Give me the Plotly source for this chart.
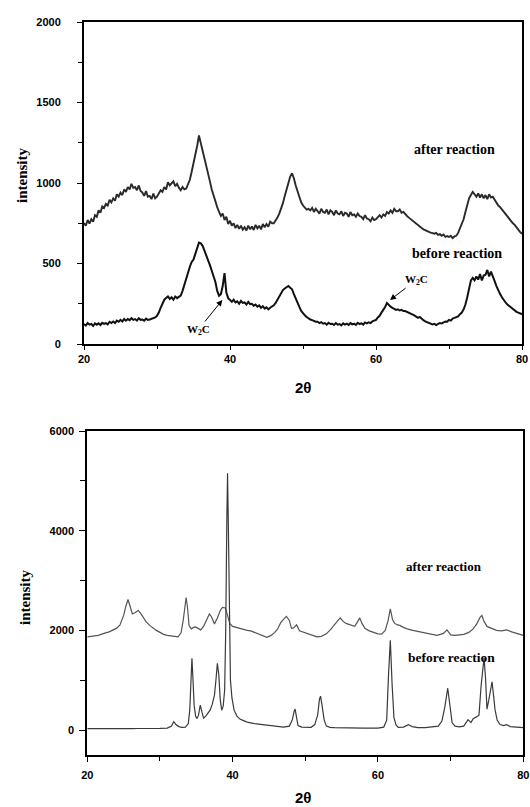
import plotly.graph_objects as go

# ---------------- top panel: uniform scan, 0.25 deg step ----------------
two_theta_top = [20 + 0.25 * i for i in range(241)]

after_top = [
    752, 735, 770, 748, 775, 760, 800, 790, 830, 815, 855, 845, 870, 860, 895, 880,
    905, 890, 930, 915, 940, 925, 960, 945, 975, 960, 995, 970, 975, 955, 985, 950,
    940, 920, 950, 915, 920, 900, 935, 905, 915, 935, 955, 945, 975, 960, 1005, 985,
    995, 1010, 980, 995, 970, 955, 975, 960, 965, 990, 1020, 1070, 1120, 1180, 1230, 1295,
    1250, 1200, 1150, 1100, 1060, 1010, 960, 920, 890, 850, 820, 795, 810, 770, 790, 745,
    765, 735, 750, 720, 740, 715, 735, 710, 725, 705, 735, 712, 730, 708, 740, 718,
    735, 712, 745, 725, 745, 728, 760, 750, 750, 765, 785, 810, 840, 875, 920, 965,
    1005, 1040, 1060, 1030, 985, 950, 910, 880, 860, 845, 835, 840, 830, 845, 820, 840,
    825, 810, 840, 820, 815, 835, 805, 830, 820, 800, 830, 810, 805, 825, 795, 815,
    810, 790, 820, 800, 805, 790, 810, 795, 790, 775, 800, 780, 775, 762, 785, 770,
    775, 790, 800, 785, 805, 795, 820, 810, 830, 815, 840, 825, 825, 835, 815, 820,
    805, 795, 785, 775, 765, 755, 745, 735, 728, 720, 712, 705, 700, 696, 692, 688,
    685, 690, 678, 682, 672, 680, 665, 670, 665, 672, 658, 668, 672, 690, 720, 750,
    775, 820, 870, 905, 925, 945, 930, 915, 935, 910, 930, 905, 925, 900, 930, 910,
    915, 895, 880, 860, 850, 835, 820, 805, 790, 775, 765, 750, 740, 725, 705, 695,
    685,
]

before_top = [
    125, 115, 130, 120, 125, 112, 128, 120, 128, 118, 132, 125, 130, 122, 138, 130,
    140, 130, 145, 138, 150, 140, 155, 145, 155, 148, 160, 150, 155, 145, 160, 150,
    152, 145, 158, 150, 152, 155, 160, 165, 175, 195, 225, 255, 275, 285, 295, 280,
    290, 275, 295, 285, 290, 300, 330, 370, 410, 450, 480, 510, 525, 560, 600, 630,
    625, 610, 580, 545, 520, 490, 455, 425, 385, 330, 300, 310, 360, 440, 320, 285,
    270, 262, 275, 258, 265, 250, 268, 255, 258, 245, 262, 248, 250, 238, 245, 232,
    240, 225, 235, 220, 228, 215, 225, 232, 240, 255, 275, 300, 315, 335, 345, 355,
    360, 350, 340, 310, 280, 260, 230, 205, 190, 178, 168, 158, 152, 148, 142, 138,
    138, 130, 136, 126, 130, 120, 132, 124, 126, 118, 130, 120, 124, 116, 128, 120,
    126, 118, 130, 122, 126, 118, 132, 124, 128, 120, 134, 128, 135, 130, 140, 145,
    150, 165, 175, 195, 210, 230, 255, 240, 232, 225, 220, 212, 215, 208, 212, 205,
    205, 200, 198, 190, 185, 178, 170, 162, 168, 155, 148, 140, 135, 130, 128, 122,
    125, 118, 125, 130, 128, 135, 140, 138, 150, 145, 158, 162, 165, 172, 185, 195,
    215, 245, 290, 350, 395, 410, 395, 420, 400, 435, 395, 425, 430, 460, 420, 450,
    415, 390, 360, 330, 310, 290, 272, 258, 245, 235, 225, 215, 210, 200, 195, 190,
    185,
]

# ---------------- bottom panel ----------------
after_bot_x = [
    20.0, 20.5, 21.0, 21.5, 22.0, 22.5, 23.0, 23.5, 24.0, 24.5, 25.0, 25.3, 25.6, 25.9,
    26.2, 26.6, 27.0, 27.3, 27.7, 28.1, 28.6, 29.0, 29.5, 30.0, 30.5, 31.0, 31.5, 32.0,
    32.5, 32.9, 33.2, 33.5, 33.6, 33.8, 34.0, 34.3, 34.6, 34.9, 35.3, 35.6, 36.0, 36.4,
    36.8, 37.1, 37.5, 37.9, 38.3, 38.6, 39.0, 39.3, 39.6, 40.0, 40.5, 41.0, 41.5, 42.0,
    42.5, 43.0, 43.5, 44.0, 44.7, 45.3, 45.8, 46.2, 46.6, 47.0, 47.4, 47.8, 48.1, 48.4,
    48.8, 49.2, 49.8, 50.4, 51.0, 51.6, 52.2, 52.9, 53.5, 54.1, 54.5, 54.8, 55.2, 55.6,
    56.0, 56.4, 56.8, 57.1, 57.5, 57.8, 58.2, 58.8, 59.4, 60.0, 60.5, 61.0, 61.4, 61.7,
    62.0, 62.3, 62.7, 63.0, 63.5, 64.0, 64.8, 65.8, 66.8, 67.6, 68.1, 68.6, 69.0, 69.5,
    70.0, 70.6, 71.2, 71.8, 72.5, 73.1, 73.6, 74.0, 74.3, 74.6, 75.0, 75.4, 75.8, 76.3,
    77.0, 77.7, 78.4, 79.1, 79.6, 80.0,
]
after_bot_y = [
    1870, 1875, 1890, 1900, 1930, 1950, 1970, 2000, 2040, 2110, 2300, 2480, 2620, 2480,
    2330, 2360, 2400, 2350, 2250, 2170, 2100, 2050, 2000, 1960, 1920, 1900, 1885, 1870,
    1870, 1950, 2200, 2550, 2660, 2450, 2100, 2030, 2060, 2070, 2030, 2010, 2080, 2220,
    2330, 2270, 2130, 2250, 2400, 2460, 2450, 2300, 2140, 2080, 2060, 2030, 2020, 2000,
    1990, 1960, 1920, 1890, 1860, 1900, 1960, 2030, 2150, 2220, 2280, 2200, 2040, 2050,
    2110, 1990, 1960, 1940, 1900, 1870, 1880, 1930, 2020, 2140, 2200, 2250, 2180, 2140,
    2120, 2100, 2080, 2150, 2250, 2140, 2040, 1990, 1955, 1930, 1925, 2000, 2200, 2430,
    2220, 2140, 2110, 2100, 2060, 2030, 2000, 1970, 1940, 1920, 1900, 1920, 1940, 2010,
    1910, 1900, 1910, 1920, 1960, 2030, 2130, 2250, 2300, 2180, 2080, 2060, 2040, 2000,
    1990, 2010, 1970, 1935, 1920, 1900,
]

before_bot_x = [
    20.0, 21.0, 22.0, 23.0, 24.0, 25.0, 26.0, 27.0, 28.0, 29.0, 30.0, 31.0, 31.6, 31.9,
    32.2, 32.6, 33.0, 33.5, 33.9, 34.1, 34.25, 34.4, 34.55, 34.7, 34.9, 35.1, 35.3, 35.55,
    35.8, 36.0, 36.3, 36.6, 36.9, 37.2, 37.5, 37.7, 37.9, 38.1, 38.3, 38.5, 38.7, 38.9,
    39.05, 39.2, 39.3, 39.42, 39.55, 39.7, 39.9, 40.2, 40.6, 41.0, 41.5, 42.0, 43.0, 44.0,
    45.0, 46.0, 47.0, 47.8, 48.2, 48.5, 48.6, 48.8, 49.0, 49.5, 50.0, 50.8, 51.3, 51.7,
    51.95, 52.1, 52.3, 52.6, 52.9, 53.4, 54.0, 55.0, 56.0, 57.0, 58.0, 59.0, 60.0, 60.8,
    61.2, 61.45, 61.7, 61.95, 62.2, 62.5, 62.8, 63.5, 64.2, 64.7, 65.5, 66.5, 67.5, 68.3,
    68.8, 69.2, 69.6, 69.9, 70.2, 70.6, 71.2, 71.8, 72.4, 72.8, 73.1, 73.5, 73.9, 74.2,
    74.45, 74.6, 74.8, 75.0, 75.25, 75.5, 75.7, 75.9, 76.1, 76.4, 76.8, 77.3, 77.7, 78.2,
    79.0, 79.5, 80.0,
]
before_bot_y = [
    30, 28, 30, 32, 28, 30, 30, 32, 30, 33, 35, 40, 80, 170,
    110, 70, 55, 60, 130, 400, 1000, 1440, 1000, 500, 280, 230, 300, 500,
    350, 240, 280, 340, 400, 520, 700, 1000, 1340, 1100, 600, 400, 480, 800,
    2000, 4200, 5150, 4000, 2000, 1000, 650, 400, 280, 220, 190, 160, 130, 110,
    85, 70, 60, 80, 200, 400, 420, 250, 90, 60, 55, 55, 110, 300,
    620, 680, 500, 200, 80, 55, 50, 45, 45, 42, 40, 40, 40, 60,
    200, 1100, 1800, 900, 250, 100, 55, 60, 110, 70, 50, 50, 60, 80,
    180, 460, 840, 450, 150, 80, 65, 80, 210, 150, 230, 260, 300, 900,
    1300, 1450, 1050, 420, 600, 850, 970, 700, 420, 200, 110, 90, 110, 70,
    55, 52, 50,
]

top_yticks = [0, 500, 1000, 1500, 2000]
bot_yticks = [0, 2000, 4000, 6000]
xticks = [20, 40, 60, 80]

W, H = 530, 807


def px_x(p):
    return p / W


def px_y(p):
    return 1 - p / H


fig = go.Figure()
fig.add_trace(go.Scatter(x=two_theta_top, y=after_top, mode="lines",
                         line=dict(color="#2a2a2a", width=1.9), xaxis="x", yaxis="y"))
fig.add_trace(go.Scatter(x=two_theta_top, y=before_top, mode="lines",
                         line=dict(color="#111111", width=2.0), xaxis="x", yaxis="y"))
fig.add_trace(go.Scatter(x=after_bot_x, y=after_bot_y, mode="lines",
                         line=dict(color="#555555", width=1.2), xaxis="x2", yaxis="y2"))
fig.add_trace(go.Scatter(x=before_bot_x, y=before_bot_y, mode="lines",
                         line=dict(color="#3a3a3a", width=1.2), xaxis="x2", yaxis="y2"))

tickfont = dict(family="Liberation Sans, Arial", size=11, color="black", weight="bold")
axis_common = dict(showline=True, linecolor="black", linewidth=2, mirror=True,
                   ticks="outside", tickcolor="black", tickwidth=1.2, automargin=False,
                   showgrid=False, zeroline=False, tickfont=tickfont)

fig.update_layout(
    width=W, height=H,
    margin=dict(l=0, r=0, t=0, b=0, autoexpand=False),
    paper_bgcolor="white", plot_bgcolor="white",
    showlegend=False,
    xaxis=dict(axis_common, domain=[px_x(84), px_x(522)], range=[20, 80],
               tickvals=xticks, ticklen=4, anchor="y",
               minor=dict(dtick=10, ticklen=3, tickcolor="black", ticks="outside")),
    yaxis=dict(axis_common, domain=[px_y(344), px_y(22)], range=[0, 2000],
               tickvals=top_yticks, ticklen=5, anchor="x", ticklabelstandoff=14,
               minor=dict(dtick=250, ticklen=4, tickcolor="black", ticks="outside")),
    xaxis2=dict(axis_common, domain=[px_x(87.3), px_x(523.3)], range=[20, 80],
                tickvals=xticks, ticklen=5, anchor="y2", ticklabelstandoff=4,
                minor=dict(dtick=10, ticklen=4, tickcolor="black", ticks="outside")),
    yaxis2=dict(axis_common, domain=[px_y(755), px_y(431)], range=[-500, 6000],
                tickvals=bot_yticks, ticklen=6, anchor="x2", ticklabelstandoff=3,
                minor=dict(tickvals=[1000, 3000, 5000], ticklen=5, tickcolor="black",
                           ticks="outside")),
)

serif_bold = dict(family="Liberation Serif, Times New Roman", color="black", weight="bold")
sans_bold = dict(family="Liberation Sans, Arial", color="black", weight="bold")
center = dict(xanchor="center", yanchor="middle")

ann = []
# axis titles
ann.append(dict(center, text="intensity", x=px_x(22), y=px_y(175), xref="paper", yref="paper",
                showarrow=False, textangle=-90, font=dict(serif_bold, size=15)))
ann.append(dict(center, text="2θ", x=px_x(303), y=px_y(388), xref="paper", yref="paper",
                showarrow=False, font=dict(sans_bold, size=15)))
ann.append(dict(center, text="intensity", x=px_x(25), y=px_y(597), xref="paper", yref="paper",
                showarrow=False, textangle=-90, font=dict(serif_bold, size=15)))
ann.append(dict(center, text="2θ", x=px_x(303), y=px_y(797), xref="paper", yref="paper",
                showarrow=False, font=dict(sans_bold, size=15)))
# top labels
ann.append(dict(center, text="after reaction", x=70.8, y=1209, xref="x", yref="y",
                showarrow=False, font=dict(serif_bold, size=14)))
ann.append(dict(center, text="before reaction", x=71.06, y=563, xref="x", yref="y",
                showarrow=False, font=dict(serif_bold, size=14)))
# W2C labels with arrows (text sits at the arrow tail)
ann.append(dict(text="W<sub>2</sub>C", x=38.95, y=273, ax=35.62, ay=87,
                xref="x", yref="y", axref="x", ayref="y", showarrow=True,
                arrowhead=2, arrowsize=1.2, arrowwidth=1, arrowcolor="black",
                font=dict(serif_bold, size=11)))
ann.append(dict(text="W<sub>2</sub>C", x=61.92, y=273, ax=65.58, ay=400,
                xref="x", yref="y", axref="x", ayref="y", showarrow=True,
                arrowhead=2, arrowsize=1.2, arrowwidth=1, arrowcolor="black",
                font=dict(serif_bold, size=11)))
# bottom labels
ann.append(dict(center, text="after reaction", x=69.08, y=3280, xref="x2", yref="y2",
                showarrow=False, font=dict(serif_bold, size=13)))
ann.append(dict(center, text="before reaction", x=70.14, y=1466, xref="x2", yref="y2",
                showarrow=False, font=dict(serif_bold, size=13.5)))

fig.update_layout(annotations=ann)
fig.write_html(
    "out.html",
    config={"displayModeBar": False},
    post_script="document.body.style.margin='0';document.body.style.padding='0';"
                "document.documentElement.style.overflow='hidden';",
)
